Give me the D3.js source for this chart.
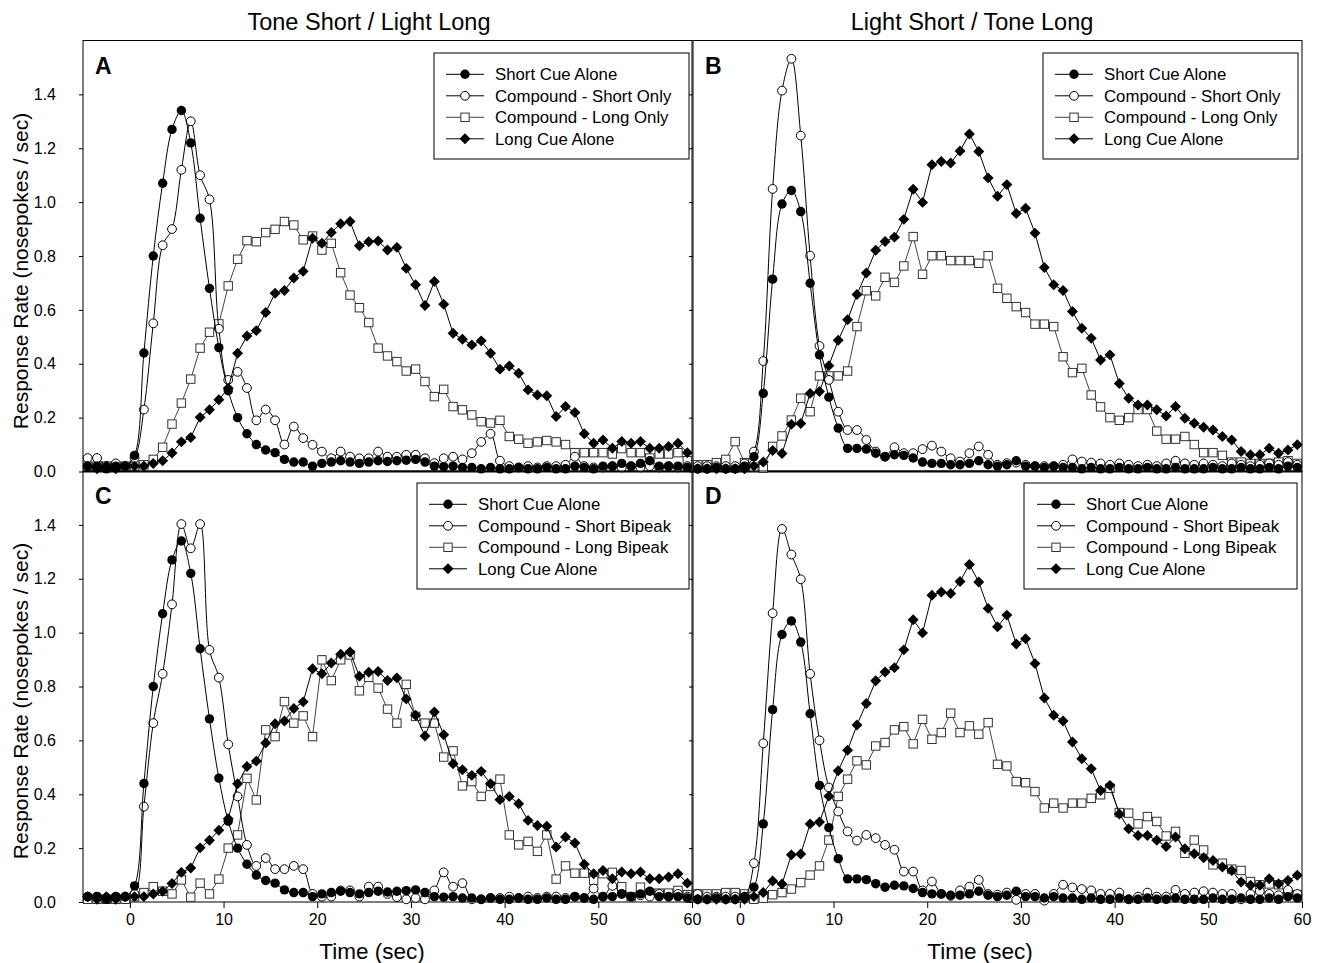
<!DOCTYPE html>
<html>
<head>
<meta charset="utf-8">
<script src="https://cdn.jsdelivr.net/npm/d3@7/dist/d3.min.js"></script>
<style>
body { margin: 0; background: #fff; }
svg { font-family: Arial, "Liberation Sans", sans-serif; }
</style>
</head>
<body>
<svg id="chart" width="1323" height="963"></svg>
<script>
// bin centres (sec)
var times = [-4.5, -3.5, -2.5, -1.5, -0.5, 0.5, 1.5, 2.5, 3.5, 4.5, 5.5, 6.5, 7.5, 8.5, 9.5,
  10.5, 11.5, 12.5, 13.5, 14.5, 15.5, 16.5, 17.5, 18.5, 19.5, 20.5, 21.5, 22.5, 23.5, 24.5,
  25.5, 26.5, 27.5, 28.5, 29.5, 30.5, 31.5, 32.5, 33.5, 34.5, 35.5, 36.5, 37.5, 38.5, 39.5,
  40.5, 41.5, 42.5, 43.5, 44.5, 45.5, 46.5, 47.5, 48.5, 49.5, 50.5, 51.5, 52.5, 53.5, 54.5,
  55.5, 56.5, 57.5, 58.5, 59.5];

var xTicks = [0, 10, 20, 30, 40, 50, 60];
var yTicks = [0, 0.2, 0.4, 0.6, 0.8, 1.0, 1.2, 1.4];

var titles = ["Tone Short / Light Long", "Light Short / Tone Long"];
var namesTop = ["Short Cue Alone", "Compound - Short Only", "Compound - Long Only", "Long Cue Alone"];
var namesBottom = ["Short Cue Alone", "Compound - Short Bipeak", "Compound - Long Bipeak", "Long Cue Alone"];

// tone short / light long
var shortAloneTL = [0.02, 0.02, 0.01, 0.02, 0.02,
  0.06, 0.44, 0.80, 1.07, 1.27, 1.34, 1.22, 0.94, 0.68, 0.46, 0.30, 0.20, 0.14, 0.10, 0.08, 0.07, 0.045,
  0.035, 0.035, 0.02, 0.03, 0.035, 0.04, 0.035, 0.03, 0.035, 0.04, 0.037, 0.04, 0.042, 0.045, 0.035, 0.02, 0.018,
  0.02, 0.015, 0.015, 0.01, 0.015, 0.01, 0.01, 0.015, 0.01, 0.01, 0.015, 0.01, 0.01, 0.02, 0.015, 0.01,
  0.02, 0.02, 0.03, 0.02, 0.03, 0.04, 0.02, 0.02, 0.02, 0.015];
var longAloneTL = [0.02, 0.01, 0.02, 0.01, 0.02, 0.02, 0.02, 0.03,
  0.04, 0.069, 0.11, 0.126, 0.201, 0.229, 0.266, 0.309, 0.439, 0.503,
  0.523, 0.59, 0.662, 0.672, 0.718, 0.743, 0.866, 0.847, 0.887, 0.92,
  0.928, 0.838, 0.853, 0.856, 0.822, 0.832, 0.754, 0.693, 0.616, 0.705,
  0.621, 0.513, 0.491, 0.47, 0.485, 0.439, 0.38, 0.392, 0.365, 0.303,
  0.284, 0.281, 0.204, 0.241, 0.219, 0.14, 0.105, 0.117, 0.086, 0.111,
  0.105, 0.111, 0.086, 0.086, 0.093, 0.105, 0.07];
var compShortA = [0.05, 0.05, 0.02, 0.03, 0.02, 0.05,
  0.23, 0.55, 0.84, 0.90, 1.12, 1.30, 1.10, 1.01, 0.53, 0.34,
  0.37, 0.31, 0.19, 0.23, 0.19, 0.10, 0.167, 0.124, 0.099, 0.074,
  0.049, 0.074, 0.055, 0.049, 0.049, 0.074, 0.055, 0.055, 0.062, 0.062,
  0.049, 0.031, 0.049, 0.055, 0.045, 0.068, 0.11, 0.14, 0.04, 0.02,
  0.015, 0.02, 0.015, 0.02, 0.02, 0.025, 0.055, 0.02, 0.015, 0.015,
  0.02, 0.015, 0.02, 0.015, 0.02, 0.015, 0.02, 0.015, 0.02];
var compLongA = [0.02, 0.02, 0.02, 0.02, 0.02, 0.02,
  0.025, 0.045, 0.09, 0.176, 0.254, 0.343, 0.458, 0.517, 0.548, 0.689,
  0.788, 0.857, 0.853, 0.887, 0.899, 0.928, 0.915, 0.86, 0.874, 0.822,
  0.847, 0.738, 0.655, 0.608, 0.553, 0.458, 0.429, 0.408, 0.373, 0.38,
  0.334, 0.278, 0.305, 0.241, 0.229, 0.21, 0.185, 0.18, 0.19, 0.13,
  0.12, 0.105, 0.11, 0.115, 0.11, 0.10, 0.07, 0.07, 0.07, 0.07,
  0.065, 0.085, 0.07, 0.07, 0.05, 0.065, 0.065, 0.07, 0.04];
var compShortC = [0.02, 0.02, 0.015, 0.02, 0.02, 0.03,
  0.354, 0.664, 0.847, 1.105, 1.403, 1.313, 1.403, 0.936, 0.833, 0.585,
  0.392, 0.212, 0.134, 0.163, 0.122, 0.122, 0.134, 0.122, 0.03, 0.02,
  0.02, 0.043, 0.043, 0.02, 0.057, 0.057, 0.03, 0.018, 0.01, 0.015,
  0.01, 0.043, 0.11, 0.057, 0.07, 0.01, 0.01, 0.015, 0.015, 0.02,
  0.015, 0.02, 0.015, 0.02, 0.02, 0.015, 0.02, 0.015, 0.05, 0.02,
  0.06, 0.03, 0.02, 0.025, 0.02, 0.03, 0.02, 0.03, 0.02];
var compLongC = [0.01, 0.01, 0.01, 0.01, 0.01, 0.02,
  0.035, 0.057, 0.04, 0.03, 0.082, 0.018, 0.07, 0.03, 0.085, 0.2,
  0.249, 0.459, 0.379, 0.639, 0.614, 0.744, 0.664, 0.691, 0.614, 0.899,
  0.822, 0.899, 0.917, 0.784, 0.834, 0.794, 0.716, 0.664, 0.808, 0.689,
  0.664, 0.664, 0.538, 0.561, 0.431, 0.447, 0.392, 0.429, 0.456, 0.249,
  0.212, 0.225, 0.188, 0.249, 0.085, 0.134, 0.107, 0.107, 0.08, 0.105,
  0.11, 0.057, 0.02, 0.055, 0.033, 0.033, 0.033, 0.043, 0.027];

// light short / tone long
var shortAloneLT = [0.01, 0.01, 0.015, 0.01, 0.01, 0.02,
  0.055, 0.29, 0.714, 0.993, 1.043, 0.965, 0.699, 0.433, 0.276, 0.161,
  0.086, 0.086, 0.083, 0.068, 0.055, 0.062, 0.06, 0.05, 0.035, 0.03,
  0.03, 0.025, 0.025, 0.03, 0.04, 0.025, 0.02, 0.025, 0.04, 0.02,
  0.02, 0.015, 0.02, 0.015, 0.015, 0.01, 0.015, 0.01, 0.01, 0.015,
  0.01, 0.01, 0.015, 0.01, 0.01, 0.015, 0.01, 0.01, 0.01, 0.015,
  0.01, 0.01, 0.015, 0.01, 0.01, 0.015, 0.01, 0.02, 0.015];
var longAloneLT = [0.01, 0.01, 0.01, 0.01, 0.01, 0.01, 0.02,
  0.035, 0.078, 0.067, 0.175, 0.178, 0.29, 0.297, 0.393, 0.487, 0.563,
  0.657, 0.737, 0.821, 0.854, 0.87, 0.936, 1.048, 0.999, 1.139, 1.151,
  1.145, 1.19, 1.253, 1.188, 1.09, 1.022, 1.065, 0.958, 0.977, 0.885,
  0.757, 0.693, 0.672, 0.594, 0.532, 0.495, 0.414, 0.433, 0.327, 0.272,
  0.247, 0.247, 0.229, 0.206, 0.241, 0.198, 0.179, 0.164, 0.154, 0.13,
  0.117, 0.074, 0.062, 0.062, 0.086, 0.068, 0.08, 0.099];
var compShortB = [0.02, 0.02, 0.02, 0.02, 0.02, 0.03,
  0.074, 0.41, 1.049, 1.414, 1.532, 1.247, 0.801, 0.466, 0.34, 0.222,
  0.154, 0.154, 0.117, 0.074, 0.055, 0.09, 0.068, 0.068, 0.083, 0.096,
  0.074, 0.049, 0.037, 0.068, 0.093, 0.062, 0.025, 0.031, 0.033, 0.025,
  0.02, 0.02, 0.02, 0.025, 0.045, 0.037, 0.033, 0.03, 0.025, 0.03,
  0.025, 0.02, 0.025, 0.02, 0.03, 0.04, 0.03, 0.025, 0.03, 0.025,
  0.02, 0.03, 0.025, 0.02, 0.025, 0.03, 0.025, 0.035, 0.025];
var compLongB = [0.025, 0.025, 0.033, 0.045, 0.111, 0.033,
  0.016, 0.012, 0.093, 0.132, 0.191, 0.272, 0.222, 0.355, 0.355, 0.355,
  0.373, 0.538, 0.671, 0.652, 0.721, 0.702, 0.763, 0.872, 0.732, 0.801,
  0.801, 0.783, 0.783, 0.783, 0.773, 0.801, 0.68, 0.643, 0.612, 0.59,
  0.547, 0.547, 0.538, 0.426, 0.367, 0.383, 0.284, 0.24, 0.2, 0.19,
  0.2, 0.23, 0.23, 0.15, 0.12, 0.12, 0.13, 0.1, 0.07, 0.07,
  0.06, 0.035, 0.035, 0.03, 0.03, 0.03, 0.035, 0.04, 0.03];
var compShortD = [0.03, 0.02, 0.02, 0.02, 0.02, 0.02,
  0.144, 0.589, 1.072, 1.385, 1.29, 1.198, 0.847, 0.6, 0.425, 0.336,
  0.262, 0.228, 0.249, 0.237, 0.212, 0.194, 0.113, 0.113, 0.043, 0.076,
  0.03, 0.023, 0.043, 0.057, 0.082, 0.03, 0.027, 0.035, 0.008, 0.03,
  0.03, 0.005, 0.03, 0.064, 0.054, 0.048, 0.043, 0.03, 0.03, 0.035,
  0.01, 0.02, 0.035, 0.02, 0.02, 0.045, 0.03, 0.035, 0.04, 0.035,
  0.03, 0.03, 0.01, 0.03, 0.04, 0.03, 0.025, 0.045, 0.03];
var compLongD = [0.03, 0.03, 0.03, 0.035, 0.035, 0.03,
  0.01, 0.014, 0.027, 0.035, 0.048, 0.072, 0.1, 0.134, 0.23, 0.392,
  0.456, 0.524, 0.509, 0.579, 0.592, 0.639, 0.651, 0.587, 0.678, 0.604,
  0.629, 0.701, 0.629, 0.654, 0.623, 0.666, 0.511, 0.505, 0.447, 0.443,
  0.41, 0.349, 0.367, 0.349, 0.367, 0.367, 0.385, 0.398, 0.422, 0.332,
  0.33, 0.29, 0.317, 0.299, 0.245, 0.262, 0.181, 0.23, 0.193, 0.138,
  0.144, 0.122, 0.117, 0.076, 0.064, 0.067, 0.064, 0.03, 0.027];

var svg = d3.select('#chart');

var panels = [
  {letter: 'A', x0: 83, x1: 692, y0: 40.5, y1: 471.5, left: true, bottom: false,
   series: [shortAloneTL, compShortA, compLongA, longAloneTL], names: namesTop,
   box: [434, 53, 255, 106], lx: [446, 465, 484], tx: 495},
  {letter: 'B', x0: 693, x1: 1302, y0: 40.5, y1: 471.5, left: false, bottom: false,
   series: [shortAloneLT, compShortB, compLongB, longAloneLT], names: namesTop,
   box: [1043, 53, 255, 106], lx: [1055, 1074, 1093], tx: 1104},
  {letter: 'C', x0: 83, x1: 692, y0: 471, y1: 902, left: true, bottom: true,
   series: [shortAloneTL, compShortC, compLongC, longAloneTL], names: namesBottom,
   box: [417, 483, 272, 106], lx: [429, 448, 467], tx: 478},
  {letter: 'D', x0: 693, x1: 1302, y0: 471, y1: 902, left: false, bottom: true,
   series: [shortAloneLT, compShortD, compLongD, longAloneLT], names: namesBottom,
   box: [1024, 483, 273, 106], lx: [1037, 1056, 1075], tx: 1086}
];

// draw order: squares, open circles, filled circles, diamonds
var drawOrder = [2, 1, 0, 3];

function addMarker(g, kind, px, py) {
  if (kind === 0) {
    g.append('circle').attr('cx', px).attr('cy', py).attr('r', 4.7).attr('fill', '#000');
  } else if (kind === 1) {
    g.append('circle').attr('cx', px).attr('cy', py).attr('r', 4.4)
      .attr('fill', '#fff').attr('stroke', '#000').attr('stroke-width', 1);
  } else if (kind === 2) {
    g.append('rect').attr('x', px - 4.2).attr('y', py - 4.2).attr('width', 8.4).attr('height', 8.4)
      .attr('fill', '#fff').attr('stroke', '#333').attr('stroke-width', 1);
  } else {
    g.append('path').attr('d', d3.symbol(d3.symbolSquare, 60)())
      .attr('transform', 'translate(' + px + ',' + py + ') rotate(45)')
      .attr('fill', '#000');
  }
}

panels.forEach(function(p) {
  var x = d3.scaleLinear().domain([-5, 60]).range([p.x0, p.x1]);
  var y = d3.scaleLinear().domain([0, 1.6]).range([p.y1, p.y0]);
  var g = svg.append('g');

  // y axis
  var yAxis = d3.axisLeft(y).tickValues(yTicks).tickSize(4).tickPadding(23)
    .tickFormat(p.left ? d3.format('.1f') : function() { return ''; });
  var ya = g.append('g').attr('transform', 'translate(' + p.x0 + ',0)').call(yAxis);
  ya.select('.domain').remove();
  ya.selectAll('text').attr('font-size', 16).attr('fill', '#000');

  if (p.bottom) {
    var xAxis = d3.axisBottom(x).tickValues(xTicks).tickSize(6).tickPadding(6);
    var xa = g.append('g').attr('transform', 'translate(0,' + p.y1 + ')').call(xAxis);
    xa.select('.domain').remove();
    xa.selectAll('text').attr('font-size', 16).attr('fill', '#000');
  }

  // frame
  g.append('rect').attr('x', p.x0).attr('y', p.y0)
    .attr('width', p.x1 - p.x0).attr('height', p.y1 - p.y0)
    .attr('fill', 'none').attr('stroke', '#000').attr('stroke-width', 1);
  if (!p.bottom) {
    g.append('line').attr('x1', p.x0).attr('x2', p.x1).attr('y1', p.y1).attr('y2', p.y1)
      .attr('stroke', '#000').attr('stroke-width', 2);
  }

  g.append('text').attr('x', p.x0 + 12).attr('y', p.y0 + 33)
    .attr('font-size', 23).attr('font-weight', 'bold').text(p.letter);

  drawOrder.forEach(function(k) {
    var vals = p.series[k];
    var pts = times.map(function(t, i) { return [x(t), y(vals[i])]; });
    var line = d3.line().curve(k < 2 ? d3.curveCatmullRom : d3.curveLinear);
    g.append('path').attr('d', line(pts)).attr('fill', 'none')
      .attr('stroke', k === 2 ? '#444' : '#000').attr('stroke-width', 1);
    var mg = g.append('g');
    pts.forEach(function(pt) { addMarker(mg, k, pt[0], pt[1]); });
  });

  // legend
  var lg = g.append('g');
  lg.append('rect').attr('x', p.box[0]).attr('y', p.box[1]).attr('width', p.box[2]).attr('height', p.box[3])
    .attr('fill', '#fff').attr('stroke', '#000').attr('stroke-width', 1);
  p.names.forEach(function(name, i) {
    var ry = p.box[1] + 21.3 + i * 21.5;
    lg.append('line').attr('x1', p.lx[0]).attr('x2', p.lx[2]).attr('y1', ry).attr('y2', ry)
      .attr('stroke', i === 2 ? '#444' : '#000').attr('stroke-width', 1);
    addMarker(lg, i, p.lx[1], ry);
    lg.append('text').attr('x', p.tx).attr('y', ry).attr('dy', '0.35em')
      .attr('font-size', 16.8).text(name);
  });
});

// titles and axis labels
svg.append('text').attr('x', 369).attr('y', 30).attr('text-anchor', 'middle')
  .attr('font-size', 23.5).text(titles[0]);
svg.append('text').attr('x', 972).attr('y', 30).attr('text-anchor', 'middle')
  .attr('font-size', 23.5).text(titles[1]);

[[372, 959], [980, 959]].forEach(function(c) {
  svg.append('text').attr('x', c[0]).attr('y', c[1]).attr('text-anchor', 'middle')
    .attr('font-size', 22.5).text('Time (sec)');
});
[271, 701].forEach(function(cy) {
  svg.append('text').attr('transform', 'translate(28,' + cy + ') rotate(-90)')
    .attr('text-anchor', 'middle').attr('font-size', 21).text('Response Rate (nosepokes / sec)');
});
</script>
</body>
</html>
